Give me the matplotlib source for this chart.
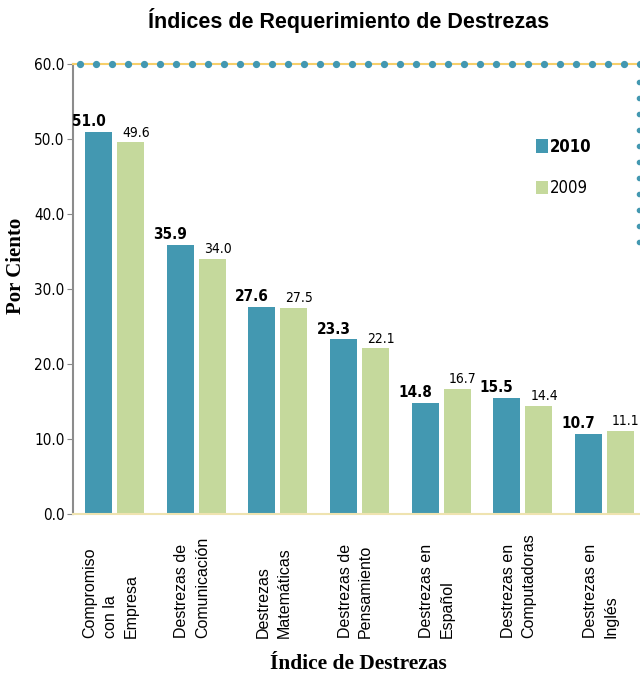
import numpy as np
import matplotlib
matplotlib.use("Agg")
import matplotlib.pyplot as plt
import matplotlib.transforms as mtransforms

# chart data
categories = [
    "Compromiso\ncon la\nEmpresa",
    "Destrezas de\nComunicación",
    "Destrezas\nMatemáticas",
    "Destrezas de\nPensamiento",
    "Destrezas en\nEspañol",
    "Destrezas en\nComputadoras",
    "Destrezas en\nInglés",
]
values_2010 = [51.0, 35.9, 27.6, 23.3, 14.8, 15.5, 10.7]
values_2009 = [49.6, 34.0, 27.5, 22.1, 16.7, 14.4, 11.1]
yticks = [0, 10, 20, 30, 40, 50, 60]

teal = "#4398B1"
green = "#C5D99C"
gold = "#F7CF6A"
narrow = dict(family=["Liberation Sans Narrow", "DejaVu Sans"], stretch="condensed")

fig = plt.figure(figsize=(6.4, 6.75), dpi=100)
ax = fig.add_axes([0.114, 0.2385, 0.893, 0.666])

x = np.arange(len(categories))
w = 0.33
ax.bar(x - 0.187, values_2010, w, color=teal, label="2010", zorder=2)
ax.bar(x + 0.205, values_2009, w, color=green, label="2009", zorder=2)

# value labels
for i, (a, b) in enumerate(zip(values_2010, values_2009)):
    ax.annotate(f"{a:.1f}", (i - 0.31, a), xytext=(0, 2), textcoords="offset points",
                ha="center", va="bottom", fontsize=11, fontweight="bold", **narrow)
    ax.annotate(f"{b:.1f}", (i + 0.27, b), xytext=(0, 2), textcoords="offset points",
                ha="center", va="bottom", fontsize=10, **narrow)

ax.set_xlim(-0.5, 6.5)
ax.set_ylim(0, 60)
ax.set_yticks(yticks)
ax.set_yticklabels([f"{v:.1f}" for v in yticks], fontsize=11, **narrow)
ax.set_xticks([])
ax.tick_params(axis="y", length=4, color="#888888", pad=2)

for side in ["top", "right"]:
    ax.spines[side].set_visible(False)
ax.spines["left"].set_color("#8C8C8C")
ax.spines["left"].set_linewidth(1.5)
ax.spines["bottom"].set_color("#EFE3B0")
ax.spines["bottom"].set_linewidth(1.5)

# dotted frame along top and part of the right side
ax.plot([0, 1], [1, 1], transform=ax.transAxes, color=gold, lw=1.5, clip_on=False, zorder=3)
top_dots = np.arange(0.012, 0.995, 0.028)
ax.plot(top_dots, np.ones_like(top_dots), "o", ms=4.2, color=teal, transform=ax.transAxes,
        clip_on=False, zorder=4)
side_dots = np.arange(0.96, 0.6, -0.0355)
ax.plot(np.full_like(side_dots, 0.990), side_dots, "o", ms=3, color=teal,
        transform=ax.transAxes, clip_on=False, zorder=4)

# category labels below the axis, bottom aligned
trans = mtransforms.blended_transform_factory(ax.transData, fig.transFigure)
for i, cat in enumerate(categories):
    ax.text(i - 0.04, 0.055, cat, transform=trans, rotation=90, ha="center", va="bottom",
            multialignment="left", fontsize=11.5, family="Liberation Sans", linespacing=1.45)

leg = ax.legend(loc="upper left", bbox_to_anchor=(0.7845, 0.87), frameon=False,
                handlelength=0.7, handleheight=0.9, handletextpad=0.1, labelspacing=1.4,
                prop=dict(size=12, **narrow))
leg.get_texts()[0].set_fontweight("bold")

ax.set_ylabel("Por Ciento", family="Liberation Serif", fontweight="bold", fontsize=15)
ax.yaxis.set_label_coords(-0.082, 0.551)
fig.text(0.56, 0.002, "Índice de Destrezas", ha="center", va="bottom",
         family="Liberation Serif", fontweight="bold", fontsize=15.4)
fig.suptitle("Índices de Requerimiento de Destrezas", x=0.545, y=0.988,
             family="Liberation Sans", fontweight="bold", fontsize=15.5)

fig.savefig("out.png", dpi=100)
